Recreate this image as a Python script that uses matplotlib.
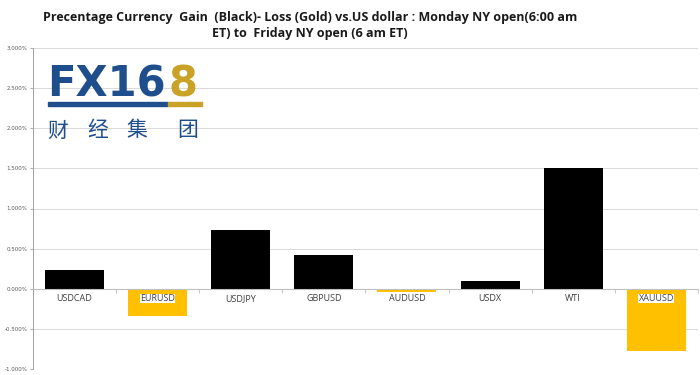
import matplotlib.pyplot as plt
from matplotlib.ticker import FuncFormatter, MultipleLocator
import numpy as np

categories = ["USDCAD", "EURUSD", "USDJPY", "GBPUSD", "AUDUSD", "USDX", "WTI", "XAUUSD"]
changes = [0.237, -0.336, 0.735, 0.42, -0.035, 0.10, 1.51, -0.78]

black = "#000000"
gold = "#FFC000"
logo_blue = "#1f4e8c"
logo_gold = "#c9a227"

fig = plt.figure(figsize=(7, 3.75), dpi=100)
ax = fig.add_axes([0.047, 0.016, 0.95, 0.856])

x = np.arange(len(categories))
colors = [black if v >= 0 else gold for v in changes]
ax.bar(x, changes, width=0.71, color=colors, zorder=3)

ax.set_xlim(-0.5, len(categories) - 0.5)
ax.set_ylim(-1.0, 3.0)
ax.yaxis.set_major_locator(MultipleLocator(0.5))
ax.yaxis.set_major_formatter(FuncFormatter(lambda v, p: "%.3f%%" % v))
ax.tick_params(axis="y", labelsize=4, colors="#595959", length=2.5, width=0.6,
               color="#a0a0a0", pad=1.5)
ax.grid(axis="y", color="#d9d9d9", linewidth=0.7, zorder=0)

for s in ["top", "right"]:
    ax.spines[s].set_visible(False)
ax.spines["left"].set_color("#a0a0a0")
ax.spines["left"].set_linewidth(0.7)
ax.spines["bottom"].set_position(("data", 0))
ax.spines["bottom"].set_color("#bfbfbf")
ax.spines["bottom"].set_linewidth(0.8)
ax.spines["bottom"].set_zorder(4)

ax.set_xticks(x)
ax.set_xticklabels([])
ax.set_xticks(np.arange(len(categories) + 1) - 0.5, minor=True)
ax.tick_params(axis="x", which="major", length=0)
ax.tick_params(axis="x", which="minor", length=3, width=0.6, color="#bfbfbf", direction="out")

for xi, name in zip(x, categories):
    ax.text(xi, -0.065, name, ha="center", va="top", fontsize=6.5, color="#404040",
            family="Open Sans", zorder=5,
            bbox=dict(facecolor="white", edgecolor="none", pad=0.3))

fig.text(0.443, 0.97, "Precentage Currency  Gain  (Black)- Loss (Gold) vs.US dollar : Monday NY open(6:00 am\nET) to  Friday NY open (6 am ET)",
         ha="center", va="top", fontsize=9, fontweight="bold", family="Open Sans",
         color="#1a1a1a", linespacing=1.3)

# logo watermark
fig.text(0.068, 0.742, "FX16", fontsize=30, fontweight="bold", color=logo_blue,
         family="DejaVu Sans", ha="left", va="baseline")
fig.text(0.241, 0.742, "8", fontsize=30, fontweight="bold", color=logo_gold,
         family="DejaVu Sans", ha="left", va="baseline")
fig.patches.append(plt.Rectangle((0.069, 0.717), 0.171, 0.011, transform=fig.transFigure,
                                 color=logo_blue))
fig.patches.append(plt.Rectangle((0.240, 0.717), 0.049, 0.011, transform=fig.transFigure,
                                 color=logo_gold))
for cx, ch in zip([0.083, 0.140, 0.196, 0.268], "财经集团"):
    fig.text(cx, 0.652, ch, fontsize=15, color=logo_blue,
             family=["Noto Sans CJK SC", "DejaVu Sans"], ha="center", va="center")

fig.savefig("out.png", dpi=100)
